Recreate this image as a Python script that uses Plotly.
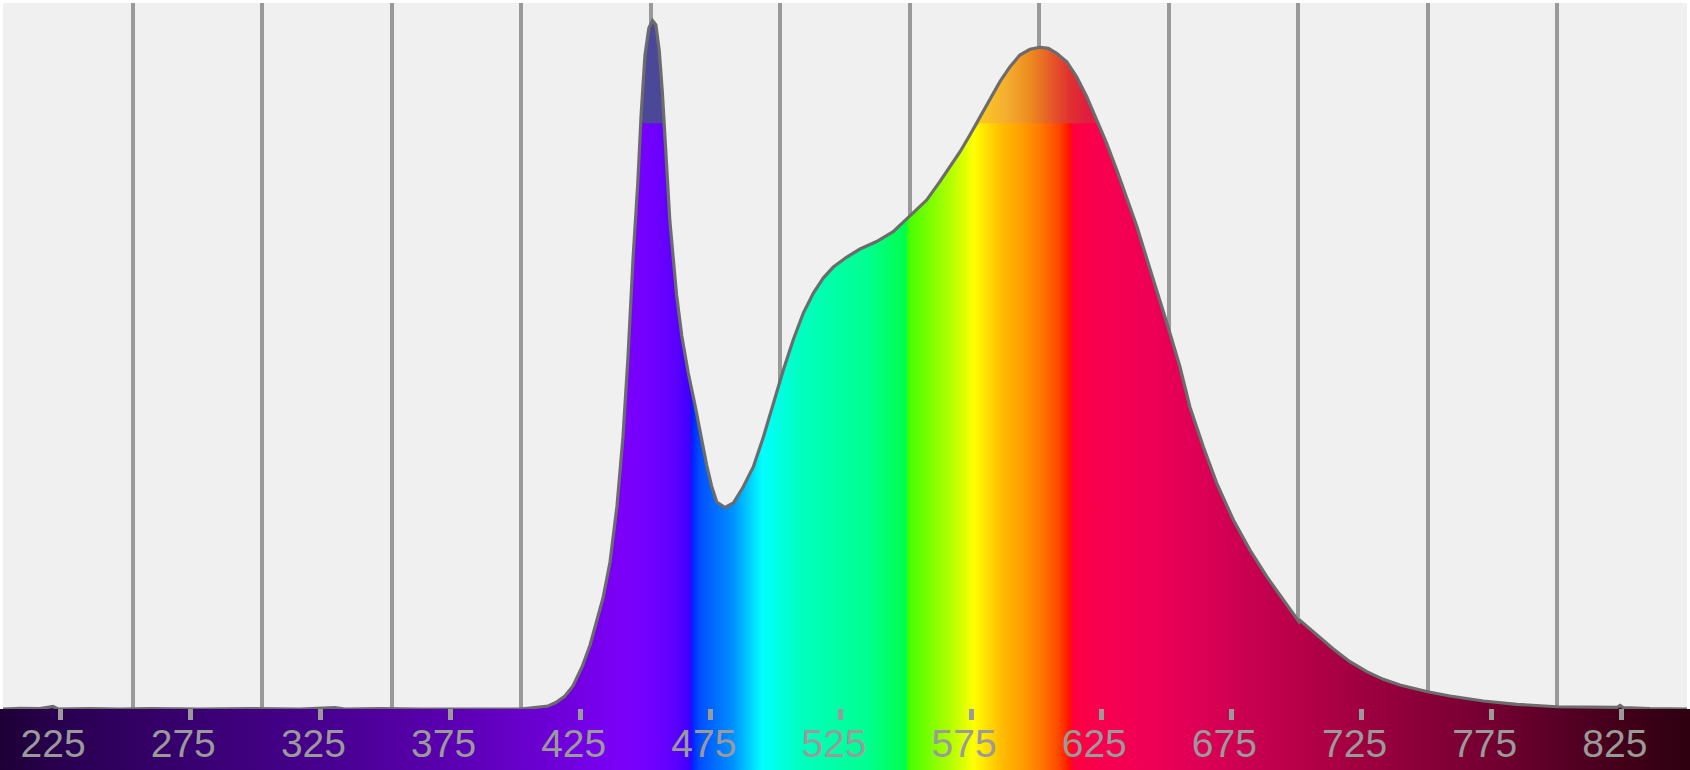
import plotly.graph_objects as go
import numpy as np

# ---------------- data ----------------
wavelength_nm = [200.0, 206.6, 214.3, 219.3, 221.2, 233.6, 245.2, 256.7, 276.0, 295.3,
                 314.6, 328.1, 332.0, 345.5, 361.0, 376.4, 391.8, 399.5, 403.4, 407.3,
                 410.4, 413.4, 416.9, 420.0, 423.5, 426.6, 429.3, 431.6, 434.3, 437.0,
                 439.3, 441.2, 443.2, 445.0, 446.3, 447.8, 449.3, 450.7, 452.0, 453.3,
                 454.5, 455.9, 457.4, 458.7, 460.0, 462.0, 464.5, 467.1, 469.7, 471.6,
                 473.5, 475.5, 478.7, 481.9, 485.7, 489.6, 493.5, 497.3, 501.2, 505.0,
                 508.9, 512.8, 516.6, 520.5, 525.7, 530.8, 537.2, 543.6, 550.1, 556.5,
                 561.6, 565.5, 569.4, 573.2, 577.1, 581.0, 584.8, 588.7, 592.5, 596.4,
                 600.3, 603.5, 606.7, 610.6, 614.4, 618.3, 622.1, 626.0, 629.9, 633.7,
                 637.6, 641.4, 645.3, 649.7, 654.3, 658.1, 663.3, 668.5, 674.9, 681.3,
                 687.8, 694.2, 699.5, 700.3, 700.7, 707.1, 713.5, 719.9, 726.4, 732.8,
                 739.2, 749.9, 758.5, 771.4, 784.3, 799.8, 816.4, 823.0, 824.2, 825.3,
                 835.7, 850.0]
intensity = [0.0, 0.001, 0.0007, 0.0036, 0.0, 0.0007, 0.0, 0.0007, 0.0, 0.0007,
             0.0, 0.002, 0.0, 0.0007, 0.0, 0.0, 0.0, 0.0, 0.0015, 0.0029,
             0.0044, 0.0094, 0.0189, 0.0334, 0.0610, 0.0930, 0.1293, 0.1612, 0.2135, 0.2949,
             0.3951, 0.5084, 0.6551, 0.7625, 0.8627, 0.9499, 0.9891, 1.0, 0.9935, 0.9563,
             0.8961, 0.7959, 0.7088, 0.6550, 0.6013, 0.5417, 0.4880, 0.4415, 0.3878, 0.3544,
             0.3239, 0.3006, 0.2927, 0.2992, 0.3224, 0.3515, 0.3951, 0.4444, 0.4924, 0.5359,
             0.5751, 0.6042, 0.6259, 0.6419, 0.6564, 0.6681, 0.6790, 0.6932, 0.7160, 0.7392,
             0.7659, 0.7876, 0.8094, 0.8337, 0.8603, 0.8870, 0.9111, 0.9329, 0.9499, 0.9582,
             0.9611, 0.9596, 0.9524, 0.9401, 0.9184, 0.8893, 0.8555, 0.8216, 0.7828, 0.7436,
             0.7015, 0.6551, 0.6086, 0.5549, 0.4967, 0.4391, 0.3810, 0.3278, 0.2745, 0.2309,
             0.1922, 0.1583, 0.1322, 0.1264, 0.1285, 0.1075, 0.0871, 0.0687, 0.0542, 0.0431,
             0.0349, 0.0251, 0.0189, 0.0116, 0.0068, 0.0033, 0.0019, 0.0025, 0.0051, 0.0022,
             0.0007, 0.0]
assert len(wavelength_nm) == len(intensity)

band_level = 0.8507                      # level above which the fill is muted
grid_nm = [250, 300, 350, 400, 450, 500, 550, 600, 650, 700, 750, 800]
scale_ticks = [225, 275, 325, 375, 425, 475, 525, 575, 625, 675, 725, 775, 825]

# spectrum colours along the scale bar (wavelength on the bar scale, colour)
spectrum_stops = [
    (201.9, "#1e0035"), (225, "#290050"), (275, "#380070"), (325, "#47008e"),
    (375, "#5a00b0"), (420, "#7000dc"), (440, "#7c00f8"), (452, "#7200ff"),
    (462, "#5a00ff"), (467.2, "#3c00ff"), (467.7, "#0020ff"), (471, "#0050ff"),
    (483.5, "#0090ff"), (494.6, "#00ffff"), (509, "#00ffc0"), (535, "#00ff90"),
    (550.2, "#00ff48"), (550.9, "#44ff00"), (567, "#b0ff00"), (576, "#ffff00"),
    (586, "#ffc000"), (594, "#ffa000"), (601.5, "#ff7a00"), (609, "#ff4400"),
    (613, "#ff1000"), (614.2, "#ff0040"), (624.6, "#f80050"), (643.8, "#ee0055"),
    (663, "#dd0055"), (682, "#c80050"), (701, "#b80048"), (724.5, "#a00040"),
    (747.5, "#8a0038"), (778, "#700030"), (801, "#580025"), (828, "#400018"),
    (851.2, "#2e0010"),
]
muted_stops = [
    (201.9, "#4b4899"), (470, "#4b4899"), (560, "#fcd020"), (578, "#fcc820"),
    (588, "#f5b030"), (598, "#ec8a1e"), (606, "#e55828"), (613, "#e03030"),
    (620, "#e01c40"), (851.2, "#e01b45"),
]

# ---------------- layout geometry ----------------
W, H = 1690, 770
bar_lo, bar_hi = 201.9, 851.2            # scale-bar axis range (full width)
bar_px = W / (bar_hi - bar_lo)
label_shift = 7 / bar_px                 # labels sit a little left of their tick marks
x_lo, x_hi = 200.0, 850.0                # data axis range (plot area)
px_per_nm = (1687 - 3) / (x_hi - x_lo)
data_full_lo = x_lo - 3 / px_per_nm
data_full_hi = x_hi + 3 / px_per_nm


def cscale(stops):
    return [[(w - bar_lo) / (bar_hi - bar_lo), c] for w, c in stops]


main_cs = cscale(spectrum_stops)
top_cs = cscale(muted_stops)

wl = np.array(wavelength_nm)
iv = np.array(intensity)
base = np.minimum(iv, band_level)

fig = go.Figure()

# spectrum fill
fig.add_trace(go.Scatter(
    x=wl, y=iv, mode="lines", line=dict(width=0), fill="tozeroy",
    fillgradient=dict(type="horizontal", colorscale=main_cs,
                      start=data_full_lo, stop=data_full_hi),
    hoverinfo="skip", showlegend=False))
# muted top band
fig.add_trace(go.Scatter(
    x=wl, y=base, mode="lines", line=dict(width=0), hoverinfo="skip", showlegend=False))
fig.add_trace(go.Scatter(
    x=wl, y=iv, mode="lines", line=dict(width=0), fill="tonexty",
    fillgradient=dict(type="horizontal", colorscale=top_cs,
                      start=data_full_lo, stop=data_full_hi),
    hoverinfo="skip", showlegend=False))
# outline
fig.add_trace(go.Scatter(
    x=wl, y=iv, mode="lines", line=dict(color="#6c6c6c", width=3.2),
    hoverinfo="skip", showlegend=False))

# colour scale bar
fig.add_trace(go.Scatter(
    x=[bar_lo, bar_hi], y=[1, 1], xaxis="x2", yaxis="y2", mode="lines",
    line=dict(width=0), fill="tozeroy",
    fillgradient=dict(type="horizontal", colorscale=main_cs, start=bar_lo, stop=bar_hi),
    hoverinfo="skip", showlegend=False))

bar_top = 61 / H
plot_top = (H - 3) / H

fig.update_layout(
    width=W, height=H,
    margin=dict(l=0, r=0, t=0, b=0, pad=0),
    paper_bgcolor="white",
    plot_bgcolor="#f0f0f0",
    showlegend=False,
    xaxis=dict(domain=[3 / W, 1687 / W], range=[x_lo, x_hi], anchor="y",
               tickvals=grid_nm, showticklabels=False, ticks="",
               showgrid=True, gridcolor="#999999", gridwidth=4,
               zeroline=False, showline=False, automargin=False, fixedrange=True),
    yaxis=dict(domain=[bar_top, plot_top], range=[0, 706 / 688.5], anchor="x",
               showgrid=False, showticklabels=False, zeroline=False, showline=False,
               ticks="", automargin=False, fixedrange=True),
    # tick marks of the scale bar
    xaxis2=dict(domain=[0, 1], range=[bar_lo, bar_hi], anchor="y2", side="top",
                tickvals=scale_ticks, ticks="inside", ticklen=11, tickwidth=5,
                tickcolor="#9a9a9a", showticklabels=False,
                showgrid=False, zeroline=False, showline=False, automargin=False,
                fixedrange=True),
    # tick labels of the scale bar
    xaxis3=dict(domain=[0, 1], range=[bar_lo + label_shift, bar_hi + label_shift],
                anchor="y2", overlaying="x2", side="top",
                tickvals=scale_ticks, ticks="", ticklabelposition="inside",
                ticklabelstandoff=18,
                tickfont=dict(family="Liberation Sans, Arial", size=39, color="#9a9a9a"),
                showgrid=False, zeroline=False, showline=False, automargin=False,
                fixedrange=True),
    yaxis2=dict(domain=[0, bar_top], range=[0, 1], anchor="x2",
                showgrid=False, showticklabels=False, zeroline=False, showline=False,
                ticks="", automargin=False, fixedrange=True),
)

# invisible helper so the label axis is drawn
fig.add_trace(go.Scatter(x=[scale_ticks[0]], y=[0], xaxis="x3", yaxis="y2",
                         mode="markers", marker=dict(opacity=0), hoverinfo="skip",
                         showlegend=False))

fig.write_html("out.html",
               config={"displayModeBar": False},
               post_script="document.body.style.margin='0';"
                           "document.body.style.overflow='hidden';")
